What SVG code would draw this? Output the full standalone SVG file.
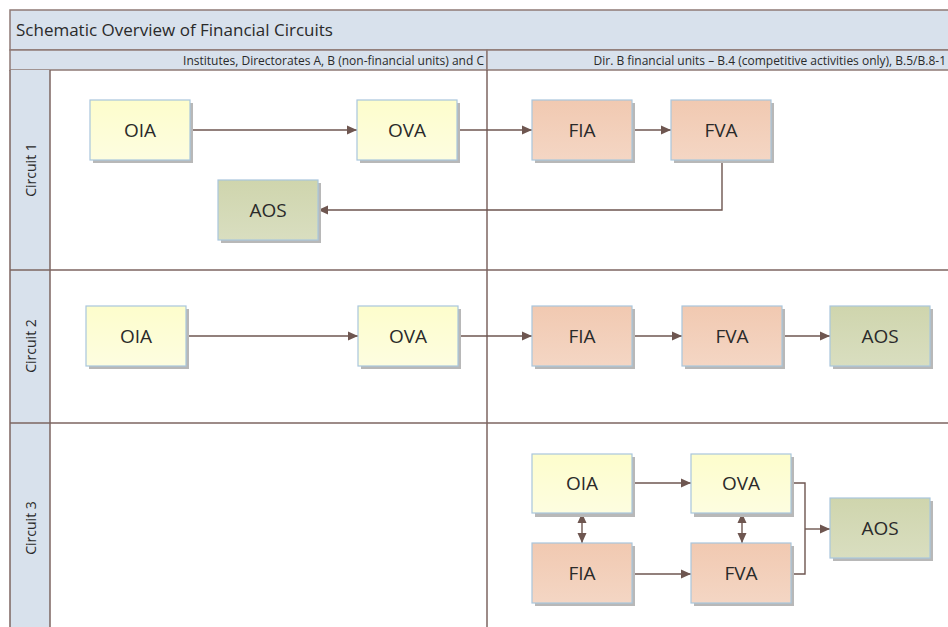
<svg xmlns="http://www.w3.org/2000/svg" width="948" height="627" viewBox="0 0 948 627">
<defs>
<linearGradient id="gY" x1="0" y1="0" x2="0" y2="1"><stop offset="0" stop-color="#fdfdcc"/><stop offset="1" stop-color="#fdfde0"/></linearGradient>
<linearGradient id="gR" x1="0" y1="0" x2="0" y2="1"><stop offset="0" stop-color="#f1c9b1"/><stop offset="1" stop-color="#f4d6c4"/></linearGradient>
<linearGradient id="gG" x1="0" y1="0" x2="0" y2="1"><stop offset="0" stop-color="#cfd5ad"/><stop offset="1" stop-color="#d9dec0"/></linearGradient>
<marker id="ah" viewBox="0 0 10 10" refX="10" refY="5" markerWidth="10" markerHeight="10" markerUnits="userSpaceOnUse" orient="auto-start-reverse"><path d="M0,0.5 L10,5 L0,9.5 z" fill="#6e5650"/></marker>
</defs>
<style>
.band{fill:#d8e1ec;stroke:#8f7a75;stroke-width:1.5}
.ln{stroke:#7d6560;stroke-width:1.5;fill:none}
.shadow{fill:#b8b8b8}
.n rect.b{stroke:#a9c6dd;stroke-width:1.2}
.nt{font-family:"Open Sans","Liberation Sans",sans-serif;font-size:19px;fill:#2a2a2a;text-anchor:middle;dominant-baseline:central}
.c{stroke:#6e5650;stroke-width:1.4;fill:none}
.hd{font-family:"Open Sans","Liberation Sans",sans-serif;font-size:12px;fill:#2a2a2a;text-anchor:end}
.lane{font-family:"Open Sans","Liberation Sans",sans-serif;font-size:14px;fill:#2a2a2a;text-anchor:middle;dominant-baseline:central}
</style>
<rect width="948" height="627" fill="#ffffff"/>
<g id="frame">
<rect class="band" x="10" y="10" width="945" height="40"/>
<text x="16" y="36" font-family="Open Sans, Liberation Sans, sans-serif" font-size="17" fill="#2a2a2a">Schematic Overview of Financial Circuits</text>
<rect class="band" x="10" y="50" width="477" height="20"/>
<rect class="band" x="487" y="50" width="468" height="20"/>
<text class="hd" x="484" y="65">Institutes, Directorates A, B (non-financial units) and C</text>
<text class="hd" x="946" y="65">Dir. B financial units – B.4 (competitive activities only), B.5/B.8-1</text>
<rect x="10" y="70" width="40" height="560" fill="#d8e1ec"/>
<line class="ln" x1="10" y1="70" x2="10" y2="630"/>
<line class="ln" x1="50" y1="70" x2="50" y2="630"/>
<line class="ln" x1="487" y1="70" x2="487" y2="630"/>
<line class="ln" x1="10" y1="270" x2="948" y2="270"/>
<line class="ln" x1="10" y1="423" x2="948" y2="423"/>
<text class="lane" transform="translate(30,170) rotate(-90)">Circuit 1</text>
<text class="lane" transform="translate(30,346) rotate(-90)">Circuit 2</text>
<text class="lane" transform="translate(30,528) rotate(-90)">Circuit 3</text>
</g>
<g id="connectors">
<line class="c" x1="189" y1="130" x2="357" y2="130" marker-end="url(#ah)"/>
<line class="c" x1="457" y1="130" x2="532" y2="130" marker-end="url(#ah)"/>
<line class="c" x1="632" y1="130" x2="671" y2="130" marker-end="url(#ah)"/>
<polyline class="c" points="722,160 722,210 318,210" marker-end="url(#ah)"/>
<line class="c" x1="186" y1="336" x2="358" y2="336" marker-end="url(#ah)"/>
<line class="c" x1="458" y1="336" x2="532" y2="336" marker-end="url(#ah)"/>
<line class="c" x1="632" y1="336" x2="682" y2="336" marker-end="url(#ah)"/>
<line class="c" x1="782" y1="336" x2="830" y2="336" marker-end="url(#ah)"/>
<line class="c" x1="632" y1="483" x2="691" y2="483" marker-end="url(#ah)"/>
<line class="c" x1="632" y1="574" x2="691" y2="574" marker-end="url(#ah)"/>
<line class="c" x1="582" y1="513" x2="582" y2="543" marker-start="url(#ah)" marker-end="url(#ah)"/>
<line class="c" x1="742" y1="513" x2="742" y2="543" marker-start="url(#ah)" marker-end="url(#ah)"/>
<polyline class="c" points="791,483 805,483 805,574 791,574"/>
<line class="c" x1="805" y1="529" x2="830" y2="529" marker-end="url(#ah)"/>
</g>
<g id="n1-oia" class="n"><rect class="shadow" x="93" y="103" width="100" height="60"/><rect class="b" x="90" y="100" width="100" height="60" fill="url(#gY)"/><text class="nt" x="140" y="130">OIA</text></g>
<g id="n1-ova" class="n"><rect class="shadow" x="360" y="103" width="100" height="60"/><rect class="b" x="357" y="100" width="100" height="60" fill="url(#gY)"/><text class="nt" x="407" y="130">OVA</text></g>
<g id="n1-fia" class="n"><rect class="shadow" x="535" y="103" width="100" height="60"/><rect class="b" x="532" y="100" width="100" height="60" fill="url(#gR)"/><text class="nt" x="582" y="130">FIA</text></g>
<g id="n1-fva" class="n"><rect class="shadow" x="674" y="103" width="100" height="60"/><rect class="b" x="671" y="100" width="100" height="60" fill="url(#gR)"/><text class="nt" x="721" y="130">FVA</text></g>
<g id="n1-aos" class="n"><rect class="shadow" x="221" y="183" width="100" height="60"/><rect class="b" x="218" y="180" width="100" height="60" fill="url(#gG)"/><text class="nt" x="268" y="210">AOS</text></g>
<g id="n2-oia" class="n"><rect class="shadow" x="89" y="309" width="100" height="60"/><rect class="b" x="86" y="306" width="100" height="60" fill="url(#gY)"/><text class="nt" x="136" y="336">OIA</text></g>
<g id="n2-ova" class="n"><rect class="shadow" x="361" y="309" width="100" height="60"/><rect class="b" x="358" y="306" width="100" height="60" fill="url(#gY)"/><text class="nt" x="408" y="336">OVA</text></g>
<g id="n2-fia" class="n"><rect class="shadow" x="535" y="309" width="100" height="60"/><rect class="b" x="532" y="306" width="100" height="60" fill="url(#gR)"/><text class="nt" x="582" y="336">FIA</text></g>
<g id="n2-fva" class="n"><rect class="shadow" x="685" y="309" width="100" height="60"/><rect class="b" x="682" y="306" width="100" height="60" fill="url(#gR)"/><text class="nt" x="732" y="336">FVA</text></g>
<g id="n2-aos" class="n"><rect class="shadow" x="833" y="309" width="100" height="60"/><rect class="b" x="830" y="306" width="100" height="60" fill="url(#gG)"/><text class="nt" x="880" y="336">AOS</text></g>
<g id="n3-oia" class="n"><rect class="shadow" x="535" y="457" width="100" height="60"/><rect class="b" x="532" y="454" width="100" height="59" fill="url(#gY)"/><text class="nt" x="582" y="483">OIA</text></g>
<g id="n3-ova" class="n"><rect class="shadow" x="694" y="457" width="100" height="60"/><rect class="b" x="691" y="454" width="100" height="59" fill="url(#gY)"/><text class="nt" x="741" y="483">OVA</text></g>
<g id="n3-fia" class="n"><rect class="shadow" x="535" y="546" width="100" height="60"/><rect class="b" x="532" y="543" width="100" height="60" fill="url(#gR)"/><text class="nt" x="582" y="573">FIA</text></g>
<g id="n3-fva" class="n"><rect class="shadow" x="694" y="546" width="100" height="60"/><rect class="b" x="691" y="543" width="100" height="60" fill="url(#gR)"/><text class="nt" x="741" y="573">FVA</text></g>
<g id="n3-aos" class="n"><rect class="shadow" x="833" y="501" width="100" height="60"/><rect class="b" x="830" y="498" width="100" height="60" fill="url(#gG)"/><text class="nt" x="880" y="528">AOS</text></g>
</svg>
